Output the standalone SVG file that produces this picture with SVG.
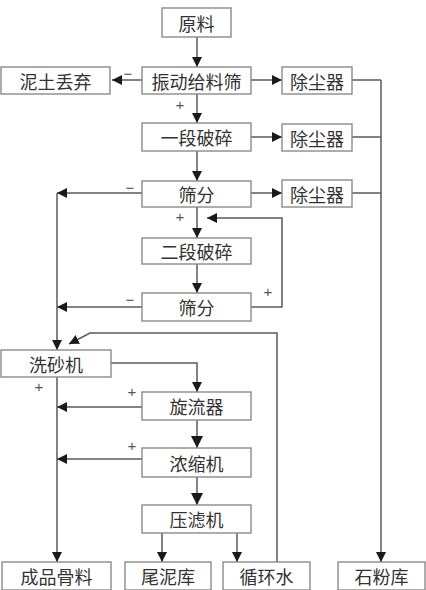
<svg xmlns="http://www.w3.org/2000/svg" width="426" height="590" viewBox="0 0 426 590">
<defs>
<style>
.box{fill:#fff;stroke:#8a8a8a;stroke-width:1.4}
.t{font-family:"Noto Sans CJK SC","Noto Sans",sans-serif;font-size:18px;fill:#333;text-anchor:middle;dominant-baseline:central}
.s{font-family:"Liberation Sans",sans-serif;font-size:15px;fill:#555;text-anchor:middle;dominant-baseline:central}
.ln{fill:none;stroke:#5a5a5a;stroke-width:1.5}
</style>
<marker id="ah" viewBox="0 0 10 10" refX="10" refY="5" markerWidth="10" markerHeight="10" markerUnits="userSpaceOnUse" orient="auto">
<path d="M0,0 L10,5 L0,10 Z" fill="#1a1a1a"/>
</marker>
<marker id="ahb" viewBox="0 0 10 10" refX="10" refY="5" markerWidth="12" markerHeight="12" markerUnits="userSpaceOnUse" orient="auto">
<path d="M0,0 L10,5 L0,10 Z" fill="#1a1a1a"/>
</marker>
</defs>
<rect width="426" height="590" fill="#fff"/>
<g id="connectors">
<path class="ln" d="M197,37 V67" marker-end="url(#ah)"/>
<path class="ln" d="M142,80 H112" marker-end="url(#ah)"/>
<path class="ln" d="M251,80 H282" marker-end="url(#ah)"/>
<path class="ln" d="M197,94 V123" marker-end="url(#ah)"/>
<path class="ln" d="M251,137 H282" marker-end="url(#ah)"/>
<path class="ln" d="M197,151 V181" marker-end="url(#ah)"/>
<path class="ln" d="M251,193 H282" marker-end="url(#ah)"/>
<path class="ln" d="M352,80 H381 M352,137 H381 M352,193 H381"/>
<path class="ln" d="M381,80 V562" marker-end="url(#ah)"/>
<path class="ln" d="M142,193 H57" marker-end="url(#ah)"/>
<path class="ln" d="M142,307 H57" marker-end="url(#ah)"/>
<path class="ln" d="M57,193 V350" marker-end="url(#ah)"/>
<path class="ln" d="M197,207 V238" marker-end="url(#ah)"/>
<path class="ln" d="M251,307 H282 V218 H207" marker-end="url(#ah)"/>
<path class="ln" d="M197,264 V293" marker-end="url(#ah)"/>
<path class="ln" d="M277,562 V333 H90 L69,344" marker-end="url(#ah)"/>
<path class="ln" d="M111,363 H197 V392" marker-end="url(#ah)"/>
<path class="ln" d="M57,377 V562" marker-end="url(#ah)"/>
<path class="ln" d="M142,407 H57" marker-end="url(#ah)"/>
<path class="ln" d="M142,459 H57" marker-end="url(#ah)"/>
<path class="ln" d="M197,420 V448" marker-end="url(#ahb)"/>
<path class="ln" d="M197,477 V505" marker-end="url(#ahb)"/>
<path class="ln" d="M162,533 V562" marker-end="url(#ah)"/>
<path class="ln" d="M237,533 V562" marker-end="url(#ah)"/>
</g>
<g id="labels">
<text class="s" x="128" y="73">−</text>
<text class="s" x="180" y="104">+</text>
<text class="s" x="130" y="187">−</text>
<text class="s" x="180" y="216">+</text>
<text class="s" x="268" y="291">+</text>
<text class="s" x="130" y="299">−</text>
<text class="s" x="39" y="386">+</text>
<text class="s" x="132" y="391">+</text>
<text class="s" x="132" y="445">+</text>
</g>
<g id="n1"><rect class="box" x="162" y="8" width="69" height="29"/><text class="t" x="196.5" y="22.5">原料</text></g>
<g id="n2"><rect class="box" x="142" y="67" width="109" height="27"/><text class="t" x="196.5" y="80.5">振动给料筛</text></g>
<g id="n3"><rect class="box" x="1" y="67" width="109" height="27"/><text class="t" x="55.5" y="80.5">泥土丢弃</text></g>
<g id="n4"><rect class="box" x="282" y="67" width="70" height="27"/><text class="t" x="317" y="80.5">除尘器</text></g>
<g id="n5"><rect class="box" x="142" y="123" width="109" height="28"/><text class="t" x="196.5" y="137">一段破碎</text></g>
<g id="n6"><rect class="box" x="282" y="124" width="70" height="27"/><text class="t" x="317" y="137.5">除尘器</text></g>
<g id="n7"><rect class="box" x="142" y="181" width="109" height="26"/><text class="t" x="196.5" y="194">筛分</text></g>
<g id="n8"><rect class="box" x="282" y="180" width="70" height="27"/><text class="t" x="317" y="193.5">除尘器</text></g>
<g id="n9"><rect class="box" x="142" y="238" width="109" height="26"/><text class="t" x="196.5" y="251">二段破碎</text></g>
<g id="n10"><rect class="box" x="142" y="293" width="109" height="28"/><text class="t" x="196.5" y="307">筛分</text></g>
<g id="n11"><rect class="box" x="1" y="350" width="110" height="27"/><text class="t" x="56" y="363.5">洗砂机</text></g>
<g id="n12"><rect class="box" x="142" y="392" width="109" height="28"/><text class="t" x="196.5" y="406">旋流器</text></g>
<g id="n13"><rect class="box" x="142" y="448" width="109" height="29"/><text class="t" x="196.5" y="462.5">浓缩机</text></g>
<g id="n14"><rect class="box" x="142" y="505" width="109" height="28"/><text class="t" x="196.5" y="519">压滤机</text></g>
<g id="n15"><rect class="box" x="2" y="562" width="109" height="28"/><text class="t" x="56.5" y="576">成品骨料</text></g>
<g id="n16"><rect class="box" x="125" y="562" width="86" height="28"/><text class="t" x="168" y="576">尾泥库</text></g>
<g id="n17"><rect class="box" x="223" y="562" width="87" height="28"/><text class="t" x="266.5" y="576">循环水</text></g>
<g id="n18"><rect class="box" x="338" y="562" width="87" height="28"/><text class="t" x="381.5" y="576">石粉库</text></g>
</svg>
